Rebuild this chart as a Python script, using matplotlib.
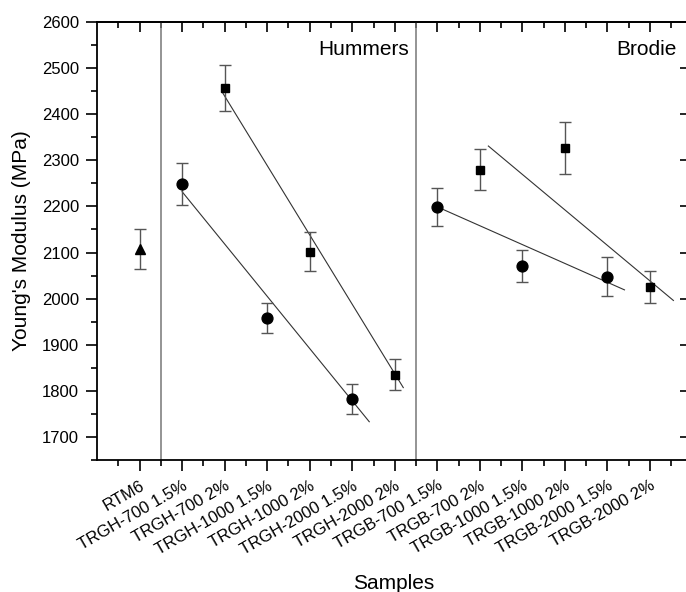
import numpy as np
import matplotlib
matplotlib.use('Agg')
import matplotlib.pyplot as plt
from matplotlib.ticker import FixedLocator, MultipleLocator

plt.rcParams['font.family'] = ['Liberation Sans', 'DejaVu Sans']

samples = ['RTM6', 'TRGH-700 1.5%', 'TRGH-700 2%', 'TRGH-1000 1.5%', 'TRGH-1000 2%',
           'TRGH-2000 1.5%', 'TRGH-2000 2%', 'TRGB-700 1.5%', 'TRGB-700 2%',
           'TRGB-1000 1.5%', 'TRGB-1000 2%', 'TRGB-2000 1.5%', 'TRGB-2000 2%']

# neat resin
rtm6_x = [0]
rtm6_val = [2108]
rtm6_err = [44]

# 1.5 % samples (circles)
c15_x = [1, 3, 5, 7, 9, 11]
c15_val = [2248, 1958, 1782, 2199, 2071, 2048]
c15_err = [46, 33, 32, 42, 35, 42]

# 2 % samples (squares)
c2_x = [2, 4, 6, 8, 10, 12]
c2_val = [2457, 2102, 1835, 2280, 2327, 2026]
c2_err = [50, 42, 33, 45, 57, 35]

# trend lines drawn in the figure (start / end)
trend_x = [[1.0, 5.4], [1.95, 6.2], [7.0, 11.4], [8.2, 12.55]]
trend_y = [[2232, 1733], [2447, 1807], [2199, 2019], [2331, 1996]]

fig = plt.figure(figsize=(6.86, 5.92), dpi=100)
ax = fig.add_axes([97 / 686, (592 - 460) / 592, (690 - 97) / 686, 438 / 592])

for tx, ty in zip(trend_x, trend_y):
    ax.plot(tx, ty, color='#333333', lw=0.8, zorder=2)

ax.axvline(0.5, color='#777777', lw=1.1, zorder=1)
ax.axvline(6.5, color='#777777', lw=1.1, zorder=1)

ekw = dict(ls='none', ecolor='#555555', elinewidth=1.0, capsize=4, capthick=1.0, zorder=3)
ax.errorbar(rtm6_x, rtm6_val, yerr=rtm6_err, marker='^', ms=7, color='black', **ekw)
ax.errorbar(c15_x, c15_val, yerr=c15_err, marker='o', ms=7.8, color='black', **ekw)
ax.errorbar(c2_x, c2_val, yerr=c2_err, marker='s', ms=5.5, color='black', **ekw)

ax.text(6.33, 2528, 'Hummers', ha='right', va='baseline', fontsize=15)
ax.text(12.62, 2528, 'Brodie', ha='right', va='baseline', fontsize=15)

ax.set_xlim(-1, 12.94)
ax.set_ylim(1650, 2600)

ax.xaxis.set_major_locator(FixedLocator(range(len(samples))))
ax.xaxis.set_minor_locator(FixedLocator(np.arange(-0.5, 13, 1.0)))
ax.set_xticklabels(samples, rotation=30, ha='right', rotation_mode='anchor', fontsize=12)
ax.yaxis.set_major_locator(MultipleLocator(100))
ax.yaxis.set_minor_locator(MultipleLocator(50))
ax.set_yticks(np.arange(1700, 2601, 100))
ax.tick_params(axis='y', labelsize=12)

ax.tick_params(axis='both', which='major', direction='out', length=8, width=1.2)
ax.tick_params(axis='both', which='minor', direction='out', length=4.5, width=1.2)
ax.tick_params(axis='x', which='major', pad=5)
ax.tick_params(axis='y', which='major', pad=5)

# inward ticks on the top and right edges
top = ax.secondary_xaxis('top')
top.xaxis.set_major_locator(FixedLocator(range(len(samples))))
top.xaxis.set_minor_locator(FixedLocator(np.arange(-0.5, 13, 1.0)))
top.tick_params(which='major', direction='in', length=7, width=1.2, labeltop=False)
top.tick_params(which='minor', direction='in', length=4, width=1.2)
top.spines['top'].set_linewidth(1.3)
right = ax.secondary_yaxis('right')
right.yaxis.set_major_locator(MultipleLocator(100))
right.tick_params(which='major', direction='in', length=7, width=1.2, labelright=False)

for s in ax.spines.values():
    s.set_linewidth(1.3)

ax.set_ylabel("Young's Modulus (MPa)", fontsize=15, labelpad=8)
ax.set_xlabel('Samples', fontsize=15, labelpad=12)

fig.savefig('out.png', dpi=100)
